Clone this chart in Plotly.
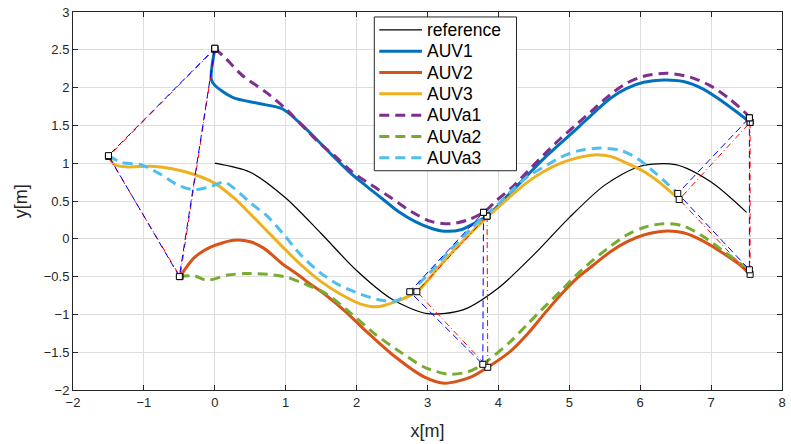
import plotly.graph_objects as go

# Reference path
ref_x = [0.0, 0.5, 1.0, 1.5, 2.0, 2.5, 3.0, 3.5, 4.0, 4.5, 5.0, 5.5, 6.0, 6.5, 7.0, 7.5]
ref_y = [1.00, 0.88, 0.54, 0.07, -0.42, -0.80, -0.99, -0.94, -0.65, -0.21, 0.28, 0.71, 0.96, 0.98, 0.75, 0.35]

# Vehicle trajectories
auv1_x = [0.00, -0.05, 0.00, 0.25, 0.62, 0.95, 1.18, 1.42, 1.65, 1.89, 2.12, 2.35, 2.59, 2.82, 3.05, 3.24, 3.47, 3.71, 3.84,
          4.18, 4.41, 4.64, 5.11, 5.35, 5.58, 5.81, 6.05, 6.33, 6.61, 6.89, 7.17, 7.40, 7.55]
auv1_y = [2.51, 2.11, 2.03, 1.87, 1.79, 1.72, 1.55, 1.33, 1.11, 0.89, 0.71, 0.54, 0.36, 0.23, 0.14, 0.10, 0.12, 0.23, 0.30,
          0.62, 0.84, 1.06, 1.46, 1.67, 1.86, 1.99, 2.07, 2.10, 2.08, 1.98, 1.81, 1.65, 1.54]

auv2_x = [-0.49, -0.29, -0.06, 0.27, 0.50, 0.70, 0.95, 1.15, 1.35, 1.56, 1.84, 2.12, 2.49, 2.96, 3.24, 3.61, 3.85,
          4.18, 4.41, 4.64, 4.88, 5.11, 5.35, 5.58, 5.81, 6.05, 6.33, 6.61, 6.89, 7.17, 7.40, 7.55]
auv2_y = [-0.50, -0.25, -0.11, -0.02, -0.04, -0.13, -0.33, -0.46, -0.60, -0.74, -0.96, -1.21, -1.52, -1.83, -1.91, -1.83, -1.70,
          -1.48, -1.26, -1.00, -0.74, -0.52, -0.34, -0.17, -0.04, 0.05, 0.10, 0.08, -0.03, -0.19, -0.34, -0.47]

auv3_x = [-1.50, -1.41, -1.22, -0.90, -0.62, -0.29, -0.01, 0.27, 0.51, 0.74, 0.97, 1.21, 1.49, 1.77, 2.05, 2.28, 2.52, 2.85,
          3.20, 3.50, 3.80, 4.00, 4.18, 4.41, 4.64, 4.88, 5.11, 5.35, 5.58, 5.81, 6.05, 6.28, 6.55]
auv3_y = [1.09, 0.98, 0.95, 0.96, 0.93, 0.85, 0.74, 0.54, 0.32, 0.10, -0.12, -0.34, -0.56, -0.73, -0.86, -0.90, -0.84, -0.70,
          -0.33, -0.03, 0.25, 0.42, 0.57, 0.75, 0.89, 1.00, 1.07, 1.11, 1.09, 1.00, 0.89, 0.74, 0.52]

auva1_x = [0.00, 0.16, 0.39, 0.72, 1.00, 1.23, 1.46, 1.70, 1.93, 2.21, 2.49, 2.77, 3.05, 3.33, 3.57, 3.79, 3.99,
           4.18, 4.41, 4.64, 4.88, 5.11, 5.35, 5.58, 5.81, 6.05, 6.37, 6.70, 6.98, 7.26, 7.50, 7.54]
auva1_y = [2.52, 2.38, 2.16, 1.94, 1.72, 1.50, 1.28, 1.09, 0.89, 0.71, 0.54, 0.36, 0.23, 0.20, 0.25, 0.35, 0.52,
           0.67, 0.89, 1.11, 1.33, 1.52, 1.72, 1.91, 2.06, 2.15, 2.19, 2.14, 2.03, 1.85, 1.65, 1.60]

auva2_x = [-0.50, -0.29, -0.11, 0.18, 0.43, 0.75, 1.02, 1.25, 1.56, 1.90, 2.26, 2.59, 2.96, 3.29, 3.57, 3.78,
           4.18, 4.41, 4.64, 4.88, 5.11, 5.35, 5.58, 5.81, 6.05, 6.33, 6.61, 6.89, 7.17, 7.40, 7.54]
auva2_y = [-0.50, -0.49, -0.55, -0.48, -0.46, -0.47, -0.51, -0.59, -0.72, -0.97, -1.26, -1.48, -1.70, -1.79, -1.76, -1.66,
           -1.35, -1.13, -0.91, -0.69, -0.47, -0.27, -0.10, 0.05, 0.15, 0.20, 0.17, 0.03, -0.16, -0.32, -0.41]

auva3_x = [-1.50, -1.32, -1.04, -0.76, -0.52, -0.29, -0.06, 0.13, 0.27, 0.51, 0.74, 0.97, 1.21, 1.49, 1.77, 2.05, 2.33, 2.56,
           2.75, 3.00, 3.30, 3.60, 3.80, 4.00, 4.18, 4.41, 4.64, 4.88, 5.11, 5.44, 5.72, 5.95, 6.19, 6.37, 6.53]
auva3_y = [1.10, 1.01, 0.98, 0.85, 0.71, 0.65, 0.69, 0.75, 0.67, 0.47, 0.30, 0.06, -0.21, -0.45, -0.62, -0.73, -0.81, -0.82,
           -0.70, -0.48, -0.17, 0.12, 0.30, 0.46, 0.63, 0.82, 0.95, 1.08, 1.16, 1.20, 1.17, 1.07, 0.89, 0.74, 0.60]

# Formation snapshots: vertex order vehicle 1, 2, 3 at three instants
form_a_x = [[0.00, -0.50, -1.50], [3.79, 3.78, 2.75], [7.54, 7.54, 6.53]]
form_a_y = [[2.52, -0.50, 1.10], [0.35, -1.66, -0.70], [1.60, -0.41, 0.60]]
form_x = [[0.00, -0.49, -1.50], [3.84, 3.85, 2.85], [7.55, 7.55, 6.55]]
form_y = [[2.51, -0.50, 1.09], [0.30, -1.70, -0.70], [1.54, -0.47, 0.52]]

DARK = "#262626"
FONT = "Liberation Sans, Arial, Helvetica, sans-serif"
DASH = "10px,6px"

# name, x, y, colour, width, dash
series = [
    ("reference", ref_x, ref_y, "black", 1.2, "solid"),
    ("AUV1", auv1_x, auv1_y, "#0072BD", 3, "solid"),
    ("AUV2", auv2_x, auv2_y, "#D95319", 3, "solid"),
    ("AUV3", auv3_x, auv3_y, "#EDB120", 3, "solid"),
    ("AUVa1", auva1_x, auva1_y, "#7E2F8E", 3, DASH),
    ("AUVa2", auva2_x, auva2_y, "#77AC30", 3, DASH),
    ("AUVa3", auva3_x, auva3_y, "#4DBEEE", 3, DASH),
]

fig = go.Figure()

for name, xs, ys, col, w, dash in series:
    fig.add_trace(go.Scatter(x=xs, y=ys, mode="lines", name=name, showlegend=False,
                             line=dict(color=col, width=w, dash=dash, shape="spline", smoothing=0.8)))

def closed(v):
    return list(v) + [v[0]]

for fx, fy in zip(form_x, form_y):
    fig.add_trace(go.Scatter(x=closed(fx), y=closed(fy), mode="lines+markers", showlegend=False,
                             line=dict(color="red", width=1, dash="6px,3px,1px,3px"),
                             marker=dict(symbol="square", size=6, color="white",
                                         line=dict(color="black", width=1))))
for fx, fy in zip(form_a_x, form_a_y):
    fig.add_trace(go.Scatter(x=closed(fx), y=closed(fy), mode="lines+markers", showlegend=False,
                             line=dict(color="blue", width=1, dash="7px,4px"),
                             marker=dict(symbol="square", size=6, color="white",
                                         line=dict(color="black", width=1))))

axis_common = dict(showgrid=True, gridcolor="#dedede", gridwidth=1, zeroline=False,
                   showline=True, linecolor=DARK, linewidth=1, mirror="ticks",
                   ticks="inside", ticklen=5, tickcolor=DARK,
                   tickfont=dict(family=FONT, size=13, color=DARK))

fig.update_xaxes(range=[-2, 8], dtick=1, tick0=-2,
                 title=dict(text="x[m]", font=dict(family=FONT, size=18, color=DARK), standoff=15),
                 **axis_common)
fig.update_yaxes(range=[-2, 3], dtick=0.5, tick0=-2, **axis_common)

# Boxed legend in the upper middle of the axes (paper coordinates)
W, H, L, T = 791, 444, 73, 9
PW, PH = W - L - 5, H - T - 54
px = lambda v: (v - L) / PW
py = lambda v: 1 - (v - T) / PH

shapes = [dict(type="rect", xref="paper", yref="paper", layer="above",
               x0=px(376), x1=px(519), y0=py(169), y1=py(14),
               line=dict(color=DARK, width=1), fillcolor="white")]
annotations = []
for i, (name, _, _, col, w, dash) in enumerate(series):
    row = 27 + 21.5 * i
    shapes.append(dict(type="line", xref="paper", yref="paper", layer="above",
                       x0=px(381), x1=px(424), y0=py(row), y1=py(row),
                       line=dict(color=col, width=w, dash=dash)))
    annotations.append(dict(text=name, xref="paper", yref="paper", x=px(427), y=py(row),
                            xanchor="left", yanchor="middle", showarrow=False,
                            font=dict(family=FONT, size=17.5, color="black")))

annotations.append(dict(text="y[m]", textangle=-90, xref="paper", yref="paper",
                        x=px(21), y=0.5, xanchor="center", yanchor="middle", showarrow=False,
                        font=dict(family=FONT, size=18, color=DARK)))

fig.update_layout(
    width=W, height=H,
    margin=dict(l=L, r=5, t=T, b=54),
    paper_bgcolor="white", plot_bgcolor="white",
    font=dict(family=FONT, color=DARK),
    showlegend=False,
    shapes=shapes,
    annotations=annotations,
)

fig.write_html("out.html")
